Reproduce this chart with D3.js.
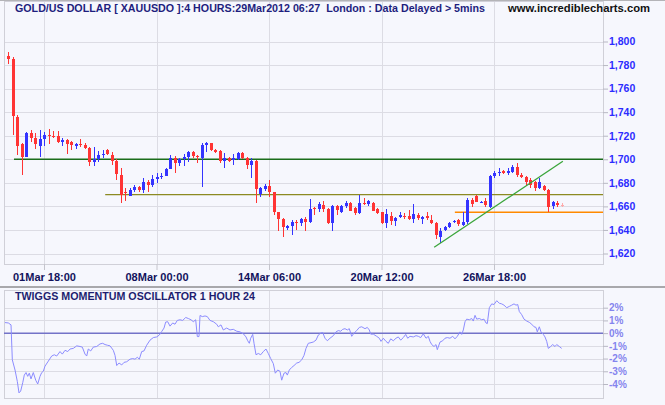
<!DOCTYPE html>
<html><head><meta charset="utf-8">
<script src="https://cdn.jsdelivr.net/npm/d3@7"></script>
<style>body{margin:0;background:#f6f7fd}svg{display:block}</style>
</head><body><svg id="c" width="665" height="405"></svg>
<script>
// ---- data ----
const opens = [1788,1785,1736.2,1712.7,1702,1722.6,1717.8,1711.5,1717.2,1720.9,
1720,1719.8,1715,1716.4,1715,1711.5,1712.7,1712.4,1709.6,1697.5,
1700.3,1703.6,1708,1703.6,1698.8,1686.7,1672,1669.1,1673.9,1676.7,
1673.9,1681,1678.2,1683.3,1684.7,1686.1,1691.8,1701.1,1696.6,1700.3,
1702.2,1706,1703,1701.4,1711.8,1713.6,1708,1707.3,1698.8,1701.4,
1699.4,1700.3,1705.6,1701.4,1695.2,1698.8,1670.3,1674.8,1677.3,1672.2,
1655.3,1649.3,1641.4,1643.4,1647.1,1646.2,1649.1,1647,1658.4,1657.8,
1661.2,1657.6,1646.2,1660.4,1655.5,1660.4,1663.2,1658.4,1654.2,1663.2,
1662,1663.2,1657.6,1655,1645.7,1652.1,1647.6,1651.3,1651.9,1651.9,
1649.1,1652.7,1649.1,1651.9,1648.5,1645.7,1634.3,1640,1642.3,1646.8,
1648.5,1644.2,1647,1665.4,1668.8,1663.2,1664.6,1659.8,1685.8,1688.1,
1690.3,1688.1,1689.5,1693.7,1686.7,1685.2,1682.5,1681,1675.4,1677.3,
1673.9,1660.4,1662.6,1661.5];
const highs = [1791,1787,1737.6,1713.6,1723,1724.9,1722,1724.9,1723,1725.7,
1724,1724.2,1718,1717.2,1715.8,1714,1717.2,1713.5,1710.7,1710.7,
1707,1707.9,1709,1706.2,1700,1692.4,1676,1675.4,1678.2,1677.6,
1683.9,1682.5,1687,1688.6,1688.6,1692.6,1703.6,1702.8,1701.1,1704.2,
1707.3,1707,1703.6,1714,1714.8,1714,1708.5,1707.9,1705,1702.2,
1704.2,1706,1706,1702.2,1700.8,1699.4,1676.7,1679,1682.5,1672.2,
1655.3,1649.9,1644.2,1648.5,1648.5,1650.4,1651.3,1666.3,1659.8,1664,
1665,1658.4,1660.8,1661,1661.2,1664.6,1663.6,1659.8,1669.7,1666.9,
1665.4,1664,1658.4,1655,1657.6,1655,1651.3,1655,1654.7,1657,
1662,1654.7,1651.9,1655.5,1652.7,1647,1641.4,1643.4,1647,1648.8,
1649.1,1655.5,1667.2,1666.9,1669.7,1664.6,1666.9,1686.7,1690,1692.4,
1691,1692.4,1695.4,1696.6,1688.6,1686,1683.9,1681.5,1684,1678.2,
1675,1664.6,1665,1662.6];
const lows = [1781,1720.6,1703.6,1686.7,1702,1715,1708.7,1702.2,1711.5,1713,
1718.3,1714.2,1711.5,1704.5,1707.9,1709,1710.7,1708.4,1694.6,1694.6,
1697.5,1700.8,1703.5,1695.2,1682.5,1663.2,1665,1668.8,1672.5,1672.5,
1671.6,1672.5,1676.7,1679.6,1683,1685.6,1691.5,1688.6,1694,1694.6,
1698,1701,1697,1676.7,1706.4,1707,1705,1697,1692.9,1697.5,
1695.2,1699.4,1700.6,1691.5,1683.9,1662.6,1668.2,1672.7,1668.2,1652.7,
1639,1633.8,1640,1635.7,1640,1643.7,1639.4,1646.2,1652.7,1655.5,
1655.5,1644.8,1639.4,1652.7,1654,1658.9,1656,1652.7,1653.3,1661.2,
1660.4,1656,1653.3,1645.2,1641.4,1644.2,1643.6,1649.9,1649.1,1648.5,
1645.7,1648.5,1644.8,1648.5,1645,1632.1,1628.7,1638.8,1641.7,1645.6,
1643.4,1643.4,1645.3,1659.8,1663.4,1662.6,1659.2,1659,1683.9,1685.5,
1687.5,1687,1688.6,1684.6,1683.9,1677.3,1675.4,1673,1675,1673,
1655.5,1657.5,1659.5,1659.2];
const closes = [1785,1737,1711.5,1702,1722.6,1718.3,1713,1717.2,1720.6,1720,
1719.2,1715,1716.7,1713,1712.1,1712.7,1711.9,1709.6,1697.5,1700.3,
1703.6,1704.7,1704.5,1698.6,1687.3,1669.7,1671.5,1673.9,1676.7,1673.9,
1681,1678.2,1683.3,1685.3,1685.9,1691.8,1701.1,1696.6,1700.3,1702.2,
1706.4,1703,1702.2,1712.1,1713.4,1708,1706,1698.8,1701.4,1698.6,
1701.4,1705,1701.4,1695.2,1698.8,1674.5,1675.9,1677.3,1672.2,1655.3,
1649.1,1642.3,1643.4,1647.1,1646.2,1649.6,1647,1657.8,1657.5,1662,
1657.8,1645.7,1660.4,1657,1660.4,1663.2,1656.4,1654.2,1663.2,1662,
1664.6,1656.4,1654.2,1645.7,1653.3,1647.6,1649.9,1652.7,1650.8,1649.1,
1653.3,1649.9,1651.3,1649.9,1645.7,1635.7,1639.4,1642.8,1646.2,1647.9,
1645.1,1647,1665.4,1662,1664,1664,1661.2,1685.8,1688.6,1689.5,
1688.1,1690.3,1693.7,1686.7,1685.2,1681,1678.2,1675.4,1681,1673.9,
1659.8,1664,1661.5,1661];

const tickIndex = [8, 33, 58, 83, 108];
const tickLabels = ["01Mar 18:00", "08Mar 00:00", "14Mar 06:00", "20Mar 12:00", "26Mar 18:00"];
const priceTicks = [1620, 1640, 1660, 1680, 1700, 1720, 1740, 1760, 1780, 1800];

const levelValues = [1700, 1670, 1655];
const levelStart = [1.33, 21.6, 99.3];
const trendIdx = [94.7, 123.3];
const trendVal = [1625.3, 1698.3];

const oscIdx = [-0.67,0.07,0.67,0.96,1.56,2.07,2.44,2.82,3.27,3.62,
4.0,4.38,4.73,5.11,5.62,6.16,6.6,7.11,7.49,7.84,
8.22,8.96,9.71,10.29,10.82,11.56,12.07,12.67,13.27,13.78,
14.51,15.27,16.0,16.51,17.11,17.49,17.84,18.38,18.96,19.71,
20.44,21.04,21.56,22.07,22.67,23.4,23.78,24.16,24.67,25.27,
25.78,26.38,27.11,27.71,28.22,28.73,29.18,29.71,30.22,30.82,
31.56,32.29,33.04,33.62,34.16,34.67,35.04,35.49,36.0,36.6,
37.11,37.62,38.22,38.82,39.49,40.07,40.67,41.18,41.71,42.07,
42.44,42.67,43.18,43.78,44.29,44.89,45.62,46.38,46.73,47.33,
47.84,48.6,49.33,50.07,50.82,51.56,52.29,52.89,53.27,53.62,
53.93,54.38,54.67,55.11,55.62,56.16,56.73,57.33,57.84,58.38,
58.96,59.4,59.93,60.44,60.82,61.33,61.78,62.07,62.51,63.04,
63.56,64.16,64.67,65.27,65.78,66.22,66.73,67.33,67.84,68.44,
68.96,69.49,69.93,70.44,70.96,71.56,72.29,72.89,73.4,73.93,
74.38,74.89,75.4,75.84,76.38,76.89,77.49,78.07,78.6,79.33,
79.84,80.29,80.6,81.18,81.93,82.51,82.89,83.4,84.0,84.51,
85.04,85.62,86.22,86.73,87.27,87.84,88.38,88.82,89.33,90.07,
90.67,91.18,91.71,92.29,92.89,93.4,93.78,94.16,94.67,95.11,
95.4,96.0,96.6,97.11,97.62,98.22,98.82,99.33,99.84,100.44,
100.82,101.18,101.56,101.93,102.51,103.04,103.4,103.78,104.16,104.73,
105.27,105.78,106.22,106.51,106.96,107.49,108.0,108.6,109.18,109.71,
110.22,110.82,111.4,111.93,112.44,112.89,113.27,113.62,114.16,114.67,
115.27,115.84,116.38,116.89,117.33,117.62,118.07,118.44,118.96,119.33,
119.71,120.07,120.6,121.04,121.56,121.93,122.51,123.04];
const oscVal = [0.83,0.8,0.65,-2.1,-2.9,-3.8,-4.7,-4.55,-3.9,-3.3,
-3.1,-3.4,-3.15,-3.6,-3.1,-3.7,-4.0,-3.4,-3.1,-3.0,
-2.6,-2.2,-1.8,-1.7,-1.8,-1.45,-1.65,-1.35,-1.45,-1.25,
-1.2,-1.0,-1.05,-1.1,-1.65,-1.8,-1.25,-1.4,-1.1,-1.05,
-0.85,-0.8,-0.9,-0.95,-1.0,-1.35,-1.75,-2.55,-2.35,-2.5,
-2.3,-2.25,-2.05,-2.0,-2.05,-1.9,-2.05,-1.45,-1.4,-0.95,
-0.55,-0.35,-0.3,-0.15,0.13,0.4,0.87,0.9,0.55,0.8,
0.7,1.0,1.05,1.0,1.23,1.15,1.05,0.9,1.05,-0.27,
-0.27,1.39,1.3,1.35,1.3,1.0,0.9,0.7,0.5,0.65,
0.25,0.4,0.25,0.3,0.15,0.1,-0.05,-0.3,-0.6,-0.8,
-0.4,-0.1,-0.8,-1.7,-1.6,-1.7,-1.45,-1.25,-1.6,-2.0,
-2.4,-3.15,-2.9,-3.0,-3.7,-3.15,-3.1,-3.3,-2.9,-2.7,
-2.55,-2.35,-2.3,-2.1,-1.75,-1.2,-0.8,-0.75,-0.7,-0.55,
-0.15,0.0,0.05,-0.4,-0.6,-0.4,-0.2,0.1,0.2,0.15,
0.3,0.35,0.25,0.35,-0.25,0.0,0.2,0.45,0.5,0.35,
0.45,0.25,-0.08,-0.08,-0.25,-0.4,-0.65,-0.4,-0.65,-0.8,
-0.45,-0.6,-0.4,-0.3,-0.55,-0.35,-0.1,-0.4,-0.25,-0.3,
-0.2,-0.25,-0.35,-0.05,-0.4,-0.25,-0.65,-0.9,-1.05,-0.9,
-1.3,-0.7,-0.6,-0.4,-0.35,-0.4,-0.25,-0.45,-0.25,0.1,
-0.1,0.25,0.9,1.1,1.05,1.15,0.95,1.4,1.1,1.15,
1.05,1.1,0.8,0.75,2.0,2.3,2.25,2.55,2.35,2.3,
2.2,2.0,2.1,2.2,2.3,2.2,2.25,1.7,1.45,1.1,
0.95,0.85,0.7,0.5,0.45,0.1,0.5,0.1,-0.1,-0.3,
-0.65,-1.2,-1.05,-0.9,-1.05,-0.9,-1.05,-1.2];
const oscTicks = [2, 1, 0, -1, -2, -3, -4];

const titleText = "GOLD/US DOLLAR [ XAUUSDO ]:4 HOURS:29Mar2012 06:27  London : Data Delayed > 5mins";
const urlText = "www.incrediblecharts.com";
const oscTitle = "TWIGGS MOMENTUM OSCILLATOR 1 HOUR 24";

// ---- layout ----
const W = 665, H = 405;
const L = 4, R = 603, T = 1, B = 264;
const LT = 290, LB = 398;
const FONT = "'Liberation Sans', Arial, Helvetica, sans-serif";
const svg = d3.select("#c");

const x = d3.scaleLinear().domain([-0.89, 132.22]).range([L, R]);
const y = d3.scaleLinear().domain([1620, 1800]).range([253.5, 41.5]);
const yo = d3.scaleLinear().domain([-4, 2]).range([384, 307.7]);
const px = v => Math.round(v) + 0.5;

svg.append("rect").attr("width", W).attr("height", H).attr("fill", "#f6f7fd");
svg.append("rect").attr("x", 0).attr("y", 0).attr("width", W).attr("height", 1).attr("fill", "#b4b4b8");

// main grid
const grid = svg.append("g").attr("shape-rendering", "crispEdges").attr("stroke", "#dcdce4").attr("stroke-width", 1);
grid.selectAll(".gh").data(priceTicks).join("line")
  .attr("x1", L).attr("x2", R).attr("y1", d => px(y(d))).attr("y2", d => px(y(d)));
grid.selectAll(".gv").data(tickIndex).join("line")
  .attr("x1", d => px(x(d))).attr("x2", d => px(x(d))).attr("y1", T).attr("y2", B);
svg.append("rect").attr("x", L + 0.5).attr("y", T + 0.5).attr("width", R - L).attr("height", B - T)
  .attr("fill", "none").attr("stroke", "#d0d0d8").attr("shape-rendering", "crispEdges");

// horizontal levels
const levelColors = ["#1b6d1b", "#8c8a22", "#ff8a00"];
svg.append("g").selectAll("line").data(levelValues).join("line")
  .attr("x1", (d, i) => x(levelStart[i])).attr("x2", R)
  .attr("y1", d => y(d)).attr("y2", d => y(d))
  .attr("stroke", (d, i) => levelColors[i]).attr("stroke-width", 1.4);

// candles
const bars = opens.map((o, i) => ({ i, o, h: highs[i], l: lows[i], c: closes[i] }));
const colorOf = d => d.i === bars.length - 1 ? "#ffaaaa" : (d.c >= d.o ? "#3434ff" : "#ff3434");
const cg = svg.append("g").attr("shape-rendering", "crispEdges");
cg.selectAll(".w").data(bars).join("line")
  .attr("x1", d => px(x(d.i))).attr("x2", d => px(x(d.i)))
  .attr("y1", d => y(d.h)).attr("y2", d => y(d.l))
  .attr("stroke", colorOf).attr("stroke-width", 1);
cg.selectAll(".b").data(bars).join("rect")
  .attr("x", d => Math.round(x(d.i)) - 1).attr("width", 3)
  .attr("y", d => y(Math.max(d.o, d.c)))
  .attr("height", d => Math.max(1, Math.abs(y(d.o) - y(d.c))))
  .attr("fill", colorOf);

// trend line
svg.append("line")
  .attr("x1", x(trendIdx[0])).attr("y1", y(trendVal[0]))
  .attr("x2", x(trendIdx[1])).attr("y2", y(trendVal[1]))
  .attr("stroke", "#3aa53a").attr("stroke-width", 1.3);

// price axis
const ay = svg.append("g").attr("transform", `translate(${R},0)`)
  .call(d3.axisRight(y).tickValues(priceTicks).tickSize(5).tickPadding(1).tickFormat(d3.format(",")));
ay.select(".domain").remove();
ay.selectAll("line").attr("stroke", "#b8b8c4");
ay.selectAll("text").attr("fill", "#2c2cff").style("font", `bold 10.5px ${FONT}`);

// time axis
const ax = svg.append("g").attr("transform", `translate(0,${B})`)
  .call(d3.axisBottom(x).tickValues(tickIndex).tickSize(6).tickPadding(3).tickFormat((d, i) => tickLabels[i]));
ax.select(".domain").remove();
ax.selectAll("line").attr("stroke", "#c4c4cc");
ax.selectAll("text").attr("fill", "#12125c").style("font", `bold 11px ${FONT}`);

// titles
svg.append("text").attr("x", 15).attr("y", 12).text(titleText)
  .attr("fill", "#1e1e7e").style("font", `bold 11px ${FONT}`).style("white-space", "pre")
  .attr("textLength", 470).attr("lengthAdjust", "spacingAndGlyphs");
svg.append("text").attr("x", 508).attr("y", 12).text(urlText)
  .attr("fill", "#111111").style("font", `bold 11px ${FONT}`)
  .attr("textLength", 142).attr("lengthAdjust", "spacingAndGlyphs");

// separator
svg.append("rect").attr("x", 0).attr("y", 286).attr("width", W).attr("height", 2).attr("fill", "#a8a8ac");

// lower panel
const lg = svg.append("g").attr("shape-rendering", "crispEdges").attr("stroke", "#dcdce4");
lg.selectAll(".oh").data(oscTicks.filter(d => d !== 0)).join("line")
  .attr("x1", L).attr("x2", R).attr("y1", d => px(yo(d))).attr("y2", d => px(yo(d)));
lg.selectAll(".ov").data(tickIndex).join("line")
  .attr("x1", d => px(x(d))).attr("x2", d => px(x(d))).attr("y1", LT).attr("y2", LB);
svg.append("rect").attr("x", L + 0.5).attr("y", LT + 0.5).attr("width", R - L).attr("height", LB - LT)
  .attr("fill", "none").attr("stroke", "#d0d0d8").attr("shape-rendering", "crispEdges");
svg.append("line").attr("x1", L).attr("x2", R).attr("y1", yo(0)).attr("y2", yo(0))
  .attr("stroke", "#7373c8").attr("stroke-width", 1.5);

const osc = oscIdx.map((d, i) => [d, oscVal[i]]);
svg.append("path").datum(osc)
  .attr("d", d3.line().x(d => x(d[0])).y(d => yo(d[1])))
  .attr("fill", "none").attr("stroke", "#8c8cff").attr("stroke-width", 1);

const ao = svg.append("g").attr("transform", `translate(${R},0)`)
  .call(d3.axisRight(yo).tickValues(oscTicks).tickSize(5).tickPadding(1).tickFormat(d => d + "%"));
ao.select(".domain").remove();
ao.selectAll("line").attr("stroke", "#b8b8c4");
ao.selectAll("text").attr("fill", "#8484ee").style("font", `bold 10px ${FONT}`);

svg.append("text").attr("x", 15).attr("y", 300).text(oscTitle)
  .attr("fill", "#1e1e70").style("font", `bold 10.5px ${FONT}`)
  .attr("textLength", 240).attr("lengthAdjust", "spacingAndGlyphs");
</script>
</body></html>
